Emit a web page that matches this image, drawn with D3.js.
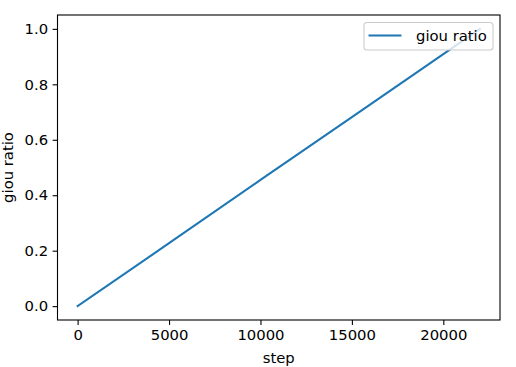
<!DOCTYPE html>
<html>
<head>
<meta charset="utf-8">
<script src="https://cdn.jsdelivr.net/npm/d3@7"></script>
<style>
  body { margin: 0; background: #fff; }
  svg { display: block; }
  text { font-family: "DejaVu Sans", sans-serif; fill: #000; }
</style>
</head>
<body>
<svg width="516" height="367"></svg>
<script>
"use strict";

// Data
var steps = [0, 5000, 10000, 15000, 20000, 22000];
var giouRatio = [0, 0.227, 0.455, 0.682, 0.909, 1.0];
var xTicks = [0, 5000, 10000, 15000, 20000];
var yTicks = [0.0, 0.2, 0.4, 0.6, 0.8, 1.0];
var seriesName = "giou ratio";

var margin = {left: 57.5, top: 15, right: 16, bottom: 47};
var width = 516 - margin.left - margin.right;
var height = 367 - margin.top - margin.bottom;
var fontSize = 14.8;

var svg = d3.select("svg");
var g = svg.append("g")
    .attr("transform", "translate(" + margin.left + "," + margin.top + ")");

// matplotlib-style 5% margins
var xExt = d3.extent(steps), yExt = d3.extent(giouRatio);
var xPad = (xExt[1] - xExt[0]) * 0.05, yPad = (yExt[1] - yExt[0]) * 0.05;

var xScale = d3.scaleLinear()
    .domain([xExt[0] - xPad, xExt[1] + xPad])
    .range([0, width]);
var yScale = d3.scaleLinear()
    .domain([yExt[0] - yPad, yExt[1] + yPad])
    .range([height, 0]);

// Axes
var xAxis = d3.axisBottom(xScale).tickValues(xTicks).tickFormat(d3.format("d"))
    .tickSize(4.9).tickPadding(4.5);
var yAxis = d3.axisLeft(yScale).tickValues(yTicks).tickFormat(d3.format(".1f"))
    .tickSize(4.9).tickPadding(4.5);

var gx = g.append("g")
    .attr("transform", "translate(0," + height + ")")
    .call(xAxis);
var gy = g.append("g").call(yAxis);

[gx, gy].forEach(function (a) {
    a.select(".domain").remove();
    a.selectAll("line").attr("stroke", "#000").attr("stroke-width", 1.1);
    a.selectAll("text").style("font-size", fontSize + "px")
        .style("font-family", "DejaVu Sans, sans-serif");
});

// Line
var line = d3.line()
    .x(function (d, i) { return xScale(steps[i]); })
    .y(function (d) { return yScale(d); });

g.append("path")
    .datum(giouRatio)
    .attr("d", line)
    .attr("fill", "none")
    .attr("stroke", "#1f77b4")
    .attr("stroke-width", 2.1)
    .attr("stroke-linecap", "square");

// Frame
g.append("rect")
    .attr("width", width)
    .attr("height", height)
    .attr("fill", "none")
    .attr("stroke", "#000")
    .attr("stroke-width", 1.1);

// Axis labels
g.append("text")
    .attr("x", width / 2)
    .attr("y", height + 43)
    .attr("text-anchor", "middle")
    .style("font-size", fontSize + "px")
    .text("step");

g.append("text")
    .attr("transform", "translate(" + (-45) + "," + (height / 2) + ") rotate(-90)")
    .attr("text-anchor", "middle")
    .style("font-size", fontSize + "px")
    .text(seriesName);

// Legend
var legend = g.append("g")
    .attr("transform", "translate(" + (width - 136) + ",7.5)");
legend.append("rect")
    .attr("width", 129)
    .attr("height", 27.5)
    .attr("rx", 3)
    .attr("fill", "#fff")
    .attr("fill-opacity", 0.8)
    .attr("stroke", "#ccc")
    .attr("stroke-width", 1.1);
legend.append("line")
    .attr("x1", 4.5).attr("x2", 37.5)
    .attr("y1", 13).attr("y2", 13)
    .attr("stroke", "#1f77b4")
    .attr("stroke-width", 2.1);
legend.append("text")
    .attr("x", 52)
    .attr("y", 18.5)
    .style("font-size", fontSize + "px")
    .text(seriesName);
</script>
</body>
</html>
